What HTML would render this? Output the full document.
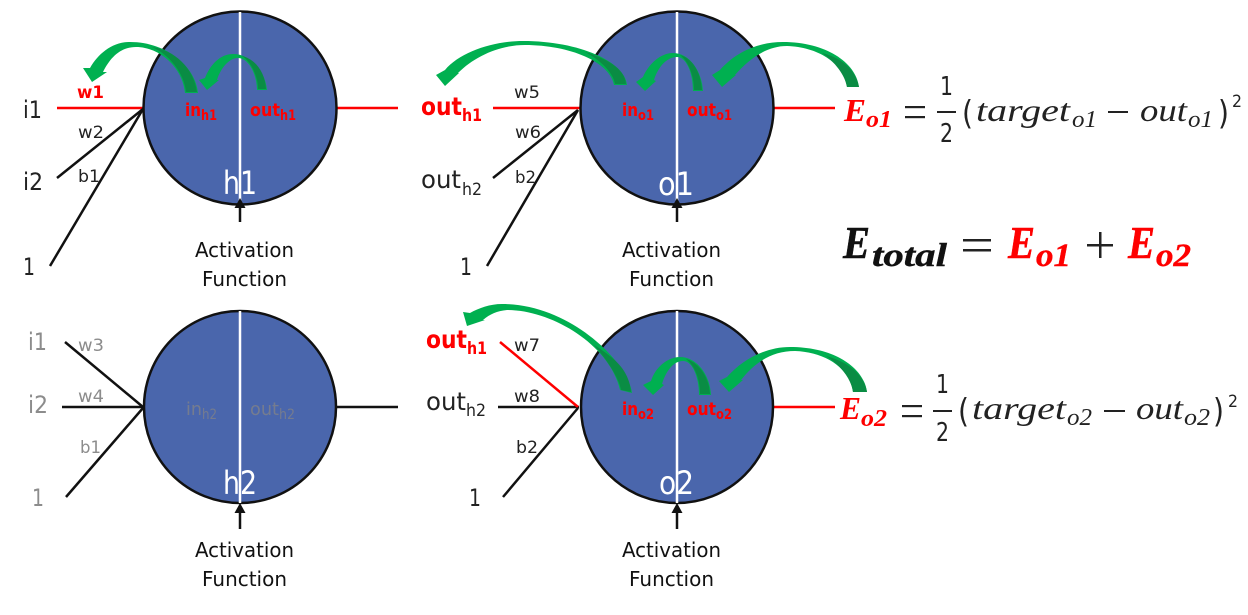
<!DOCTYPE html>
<html>
<head>
<meta charset="utf-8">
<style>
html,body{margin:0;padding:0;background:#fff;}
svg{display:block;}
text{font-family:"DejaVu Sans","Liberation Sans",sans-serif;fill:#222;}
.r{fill:#fe0000;font-weight:bold;}
.g{fill:#8c8c8c;}
.b{font-size:24px;}
.w{font-size:17px;}
.a{font-size:20px;fill:#111;}
.n{font-size:32px;fill:#fff;}
.s{font-size:18px;font-weight:bold;}
.t{font-size:14px;font-weight:bold;}
.o{font-size:25px;}
.h{font-size:17px;}
.d{fill:#757c8f;font-weight:normal;}
.m{font-family:"Liberation Serif",serif;font-style:italic;font-size:32px;fill:#222;}
.ms{font-family:"Liberation Serif",serif;font-style:italic;font-size:24px;fill:#222;}
.u{font-family:"DejaVu Sans",sans-serif;font-size:26px;fill:#222;}
.p{font-family:"DejaVu Sans",sans-serif;font-size:33px;fill:#222;}
.eb{font-family:"Liberation Serif",serif;font-style:italic;font-weight:bold;}
.re{fill:#fe0000;}
.ln{stroke:#111;stroke-width:2.5;fill:none;}
.red{stroke:#fe0000;stroke-width:2.5;fill:none;}
.c{fill:#4a66ac;stroke:#111;stroke-width:2.5;}
.v{stroke:#fff;stroke-width:2.5;}
.gr{fill:#00b050;}
.dk{fill:#0a8c44;}
</style>
</head>
<body>
<svg width="1248" height="615" viewBox="0 0 1248 615" xmlns="http://www.w3.org/2000/svg">
<rect width="1248" height="615" fill="#fff"/>

<!-- connector lines -->
<line class="red" x1="57" y1="108" x2="144" y2="108"/>
<line class="ln" x1="57" y1="178" x2="143" y2="109"/>
<line class="ln" x1="50" y1="266" x2="143" y2="109"/>
<line class="red" x1="337" y1="108" x2="398" y2="108"/>

<line class="red" x1="493" y1="108" x2="580" y2="108"/>
<line class="ln" x1="493" y1="178" x2="578" y2="110"/>
<line class="ln" x1="487" y1="266" x2="578" y2="110"/>
<line class="red" x1="774" y1="108" x2="835" y2="108"/>

<line class="ln" x1="65" y1="342" x2="143" y2="407"/>
<line class="ln" x1="62" y1="407" x2="144" y2="407"/>
<line class="ln" x1="66" y1="497" x2="143" y2="408"/>
<line class="ln" x1="336" y1="407" x2="398" y2="407"/>

<line class="ln" x1="498" y1="407" x2="579" y2="407"/>
<line class="red" x1="500" y1="342" x2="578" y2="407"/>
<line class="ln" x1="503" y1="497" x2="578" y2="408"/>
<line class="red" x1="774" y1="407" x2="835" y2="407"/>

<!-- circles -->
<circle class="c" cx="240" cy="108" r="96.5"/>
<circle class="c" cx="677" cy="108" r="96.5"/>
<circle class="c" cx="240" cy="407" r="96"/>
<circle class="c" cx="677" cy="407" r="96"/>
<line class="v" x1="240" y1="12" x2="240" y2="203"/>
<line class="v" x1="677" y1="12" x2="677" y2="203"/>
<line class="v" x1="240" y1="311" x2="240" y2="503"/>
<line class="v" x1="677" y1="311" x2="677" y2="503"/>

<!-- activation arrows -->
<g fill="#111" stroke="#111">
<line x1="240" y1="222" x2="240" y2="205" stroke-width="2.5"/><path d="M240,198 L245.5,208 L234.5,208Z" stroke="none"/>
<line x1="677" y1="222" x2="677" y2="205" stroke-width="2.5"/><path d="M677,198 L682.5,208 L671.5,208Z" stroke="none"/>
<line x1="240" y1="529" x2="240" y2="510" stroke-width="2.5"/><path d="M240,503 L245.5,513 L234.5,513Z" stroke="none"/>
<line x1="677" y1="529" x2="677" y2="510" stroke-width="2.5"/><path d="M677,503 L682.5,513 L671.5,513Z" stroke="none"/>
</g>

<!-- green arrows -->
<path class="gr" d="M198,93 C196,68 168,42 130,42 C112,42 98,54 90,68 L83,68 L92,82 L107,72 L103,72 C110,58 120,47 136,47 C160,47 183,68 185,93Z"/>
<path class="dk" d="M197,92 L186,92 C184,72 168,54 152,47 C174,50 194,68 197,92Z"/>
<path class="gr" d="M267,90 C265,70 250,54 233,54 C220,54 210,65 205,78 L199,80 L207,90 L219,80 L217,80 C220,70 228,58 238,58 C249,58 257,75 257,90Z"/>
<path class="dk" d="M266,89 L258,89 C258,75 250,61 242,56 C255,59 265,72 266,89Z"/>

<path class="gr" d="M627,85 C625,62 580,41 523,41 C493,41 460,52 445,70 L436,75 L445,86 L459,73 L458,73 C475,56 500,45 525,45 C570,45 610,62 614,85Z"/>
<path class="dk" d="M626,84 L615,84 C613,72 600,60 585,52 C605,58 625,68 626,84Z"/>
<path class="gr" d="M703,91 C702,72 690,53 673,53 C660,53 648,65 643,77 L636,82 L645,91 L656,81 L654,80 C657,70 665,57 677,57 C686,57 693,72 693,91Z"/>
<path class="dk" d="M702,90 L694,90 C694,75 688,61 680,55 C692,58 701,72 702,90Z"/>
<path class="gr" d="M859,87 C856,62 825,42 783,42 C757,42 735,53 720,70 L712,75 L722,87 L736,75 L735,75 C750,58 767,46 787,46 C817,47 843,62 847,87Z"/>
<path class="dk" d="M859,87 L847,87 C845,75 835,62 822,53 C842,58 856,70 859,87Z"/>

<path class="gr" d="M632,393 C628,362 570,304 502,304 C490,304 479,308 470,313 L463,312 L467,326 L485,320 L483,320 C490,314 497,311 507,310 C552,310 610,345 620,390Z"/>
<path class="dk" d="M631,392 L621,390 C618,375 605,358 594,345 C615,358 629,370 631,392Z"/>
<path class="gr" d="M711,395 C710,375 697,357 680,357 C667,357 655,368 651,381 L643,385 L653,395 L664,385 L662,384 C665,374 672,361 683,361 C693,361 699,378 699,395Z"/>
<path class="dk" d="M710,394 L700,394 C700,378 694,365 686,359 C698,362 709,376 710,394Z"/>
<path class="gr" d="M867,392 C864,368 835,347 790,347 C765,347 742,360 727,377 L719,381 L729,392 L743,380 L741,380 C755,362 772,351 795,351 C825,352 850,368 853,392Z"/>
<path class="dk" d="M867,392 L853,392 C851,378 840,365 826,356 C848,362 864,374 867,392Z"/>

<!-- h1 labels -->
<text class="b" x="23" y="118" textLength="19" lengthAdjust="spacingAndGlyphs">i1</text>
<text class="b" x="23" y="190" textLength="20" lengthAdjust="spacingAndGlyphs">i2</text>
<text class="b" x="23" y="275" textLength="12" lengthAdjust="spacingAndGlyphs">1</text>
<text class="w r" x="77" y="98" textLength="27" lengthAdjust="spacingAndGlyphs">w1</text>
<text class="w" x="78" y="138" textLength="26" lengthAdjust="spacingAndGlyphs">w2</text>
<text class="w" x="78" y="182" textLength="22" lengthAdjust="spacingAndGlyphs">b1</text>
<text class="s r" x="185" y="116" textLength="16" lengthAdjust="spacingAndGlyphs">in</text>
<text class="t r" x="201" y="120" textLength="16" lengthAdjust="spacingAndGlyphs">h1</text>
<text class="s r" x="250" y="116" textLength="30" lengthAdjust="spacingAndGlyphs">out</text>
<text class="t r" x="280" y="120" textLength="16" lengthAdjust="spacingAndGlyphs">h1</text>
<text class="n" x="223" y="194" textLength="34" lengthAdjust="spacingAndGlyphs">h1</text>
<text class="a" x="195" y="257" textLength="99" lengthAdjust="spacingAndGlyphs">Activation</text>
<text class="a" x="202" y="286" textLength="85" lengthAdjust="spacingAndGlyphs">Function</text>

<!-- o1 labels -->
<text class="o r" x="421" y="115" textLength="41" lengthAdjust="spacingAndGlyphs">out</text>
<text class="h r" x="462" y="121" textLength="20" lengthAdjust="spacingAndGlyphs">h1</text>
<text class="w" x="514" y="98" textLength="26" lengthAdjust="spacingAndGlyphs">w5</text>
<text class="w" x="515" y="138" textLength="26" lengthAdjust="spacingAndGlyphs">w6</text>
<text class="w" x="515" y="183" textLength="21" lengthAdjust="spacingAndGlyphs">b2</text>
<text class="o" x="421" y="188" textLength="40" lengthAdjust="spacingAndGlyphs">out</text>
<text class="h" x="462" y="195" textLength="20" lengthAdjust="spacingAndGlyphs">h2</text>
<text class="b" x="460" y="275" textLength="12" lengthAdjust="spacingAndGlyphs">1</text>
<text class="s r" x="622" y="116" textLength="16" lengthAdjust="spacingAndGlyphs">in</text>
<text class="t r" x="638" y="120" textLength="16" lengthAdjust="spacingAndGlyphs">o1</text>
<text class="s r" x="687" y="116" textLength="29" lengthAdjust="spacingAndGlyphs">out</text>
<text class="t r" x="716" y="120" textLength="16" lengthAdjust="spacingAndGlyphs">o1</text>
<text class="n" x="658" y="195" textLength="36" lengthAdjust="spacingAndGlyphs">o1</text>
<text class="a" x="622" y="257" textLength="99" lengthAdjust="spacingAndGlyphs">Activation</text>
<text class="a" x="629" y="286" textLength="85" lengthAdjust="spacingAndGlyphs">Function</text>

<!-- h2 labels -->
<text class="b g" x="28" y="350" textLength="19" lengthAdjust="spacingAndGlyphs">i1</text>
<text class="b g" x="28" y="413" textLength="20" lengthAdjust="spacingAndGlyphs">i2</text>
<text class="b g" x="32" y="506" textLength="12" lengthAdjust="spacingAndGlyphs">1</text>
<text class="w g" x="78" y="351" textLength="26" lengthAdjust="spacingAndGlyphs">w3</text>
<text class="w g" x="78" y="402" textLength="26" lengthAdjust="spacingAndGlyphs">w4</text>
<text class="w g" x="80" y="453" textLength="21" lengthAdjust="spacingAndGlyphs">b1</text>
<text class="s d" x="186" y="415" textLength="16" lengthAdjust="spacingAndGlyphs">in</text>
<text class="t d" x="202" y="419" textLength="15" lengthAdjust="spacingAndGlyphs">h2</text>
<text class="s d" x="250" y="415" textLength="29" lengthAdjust="spacingAndGlyphs">out</text>
<text class="t d" x="279" y="419" textLength="16" lengthAdjust="spacingAndGlyphs">h2</text>
<text class="n" x="223" y="494" textLength="34" lengthAdjust="spacingAndGlyphs">h2</text>
<text class="a" x="195" y="557" textLength="99" lengthAdjust="spacingAndGlyphs">Activation</text>
<text class="a" x="202" y="586" textLength="85" lengthAdjust="spacingAndGlyphs">Function</text>

<!-- o2 labels -->
<text class="o r" x="426" y="348" textLength="41" lengthAdjust="spacingAndGlyphs">out</text>
<text class="h r" x="467" y="354" textLength="20" lengthAdjust="spacingAndGlyphs">h1</text>
<text class="w" x="514" y="351" textLength="26" lengthAdjust="spacingAndGlyphs">w7</text>
<text class="o" x="426" y="410" textLength="40" lengthAdjust="spacingAndGlyphs">out</text>
<text class="h" x="466" y="416" textLength="20" lengthAdjust="spacingAndGlyphs">h2</text>
<text class="w" x="514" y="402" textLength="26" lengthAdjust="spacingAndGlyphs">w8</text>
<text class="w" x="516" y="453" textLength="22" lengthAdjust="spacingAndGlyphs">b2</text>
<text class="b" x="469" y="506" textLength="12" lengthAdjust="spacingAndGlyphs">1</text>
<text class="s r" x="622" y="415" textLength="16" lengthAdjust="spacingAndGlyphs">in</text>
<text class="t r" x="638" y="419" textLength="16" lengthAdjust="spacingAndGlyphs">o2</text>
<text class="s r" x="687" y="415" textLength="29" lengthAdjust="spacingAndGlyphs">out</text>
<text class="t r" x="716" y="419" textLength="16" lengthAdjust="spacingAndGlyphs">o2</text>
<text class="n" x="659" y="494" textLength="35" lengthAdjust="spacingAndGlyphs">o2</text>
<text class="a" x="622" y="557" textLength="99" lengthAdjust="spacingAndGlyphs">Activation</text>
<text class="a" x="629" y="586" textLength="85" lengthAdjust="spacingAndGlyphs">Function</text>

<!-- E_o1 equation -->
<text class="eb re" style="font-size:32px" x="844" y="121" textLength="22" lengthAdjust="spacingAndGlyphs">E</text>
<text class="eb re" style="font-size:24px" x="866" y="127" textLength="26" lengthAdjust="spacingAndGlyphs">o1</text>
<rect x="905" y="106" width="20" height="2.2" fill="#222"/>
<rect x="905" y="116" width="20" height="2.2" fill="#222"/>
<text class="u" x="940" y="95" textLength="13" lengthAdjust="spacingAndGlyphs">1</text>
<rect x="937" y="111" width="19" height="2" fill="#222"/>
<text class="u" x="940" y="142" textLength="13" lengthAdjust="spacingAndGlyphs">2</text>
<text class="p" x="962" y="124" textLength="11" lengthAdjust="spacingAndGlyphs">(</text>
<text class="m" x="976" y="121" textLength="94" lengthAdjust="spacingAndGlyphs">target</text>
<text class="ms" x="1072" y="127" textLength="25" lengthAdjust="spacingAndGlyphs">o1</text>
<rect x="1108" y="111" width="20" height="2" fill="#222"/>
<text class="m" x="1140" y="121" textLength="47" lengthAdjust="spacingAndGlyphs">out</text>
<text class="ms" x="1188" y="127" textLength="25" lengthAdjust="spacingAndGlyphs">o1</text>
<text class="p" x="1218" y="124" textLength="11" lengthAdjust="spacingAndGlyphs">)</text>
<text class="u" style="font-size:17px" x="1232" y="107" textLength="10" lengthAdjust="spacingAndGlyphs">2</text>

<!-- E_total -->
<text class="eb" style="font-size:46px;fill:#111;stroke:#111;stroke-width:.5" x="843" y="258" textLength="27" lengthAdjust="spacingAndGlyphs">E</text>
<text class="eb" style="font-size:33px;fill:#111;stroke:#111;stroke-width:.4" x="872" y="266" textLength="75" lengthAdjust="spacingAndGlyphs">total</text>
<rect x="963" y="239" width="28" height="2.5" fill="#222"/>
<rect x="963" y="249" width="28" height="2.5" fill="#222"/>
<text class="eb re" style="font-size:46px;stroke:#fe0000;stroke-width:.5" x="1008" y="258" textLength="27" lengthAdjust="spacingAndGlyphs">E</text>
<text class="eb re" style="font-size:33px;stroke:#fe0000;stroke-width:.4" x="1036" y="266" textLength="35" lengthAdjust="spacingAndGlyphs">o1</text>
<rect x="1087" y="244" width="26" height="2.5" fill="#222"/>
<rect x="1099" y="232" width="2.5" height="26" fill="#222"/>
<text class="eb re" style="font-size:46px;stroke:#fe0000;stroke-width:.5" x="1128" y="258" textLength="27" lengthAdjust="spacingAndGlyphs">E</text>
<text class="eb re" style="font-size:33px;stroke:#fe0000;stroke-width:.4" x="1156" y="266" textLength="35" lengthAdjust="spacingAndGlyphs">o2</text>

<!-- E_o2 equation -->
<text class="eb re" style="font-size:32px" x="840" y="419" textLength="21" lengthAdjust="spacingAndGlyphs">E</text>
<text class="eb re" style="font-size:24px" x="861" y="426" textLength="26" lengthAdjust="spacingAndGlyphs">o2</text>
<rect x="902" y="405" width="20" height="2.2" fill="#222"/>
<rect x="902" y="415" width="20" height="2.2" fill="#222"/>
<text class="u" x="936" y="393" textLength="13" lengthAdjust="spacingAndGlyphs">1</text>
<rect x="933" y="410" width="19" height="2" fill="#222"/>
<text class="u" x="936" y="441" textLength="13" lengthAdjust="spacingAndGlyphs">2</text>
<text class="p" x="958" y="422" textLength="11" lengthAdjust="spacingAndGlyphs">(</text>
<text class="m" x="972" y="419" textLength="94" lengthAdjust="spacingAndGlyphs">target</text>
<text class="ms" x="1067" y="425" textLength="25" lengthAdjust="spacingAndGlyphs">o2</text>
<rect x="1104" y="410" width="21" height="2" fill="#222"/>
<text class="m" x="1136" y="419" textLength="47" lengthAdjust="spacingAndGlyphs">out</text>
<text class="ms" x="1184" y="425" textLength="26" lengthAdjust="spacingAndGlyphs">o2</text>
<text class="p" x="1213" y="422" textLength="11" lengthAdjust="spacingAndGlyphs">)</text>
<text class="u" style="font-size:17px" x="1228" y="407" textLength="10" lengthAdjust="spacingAndGlyphs">2</text>
</svg>
</body>
</html>
